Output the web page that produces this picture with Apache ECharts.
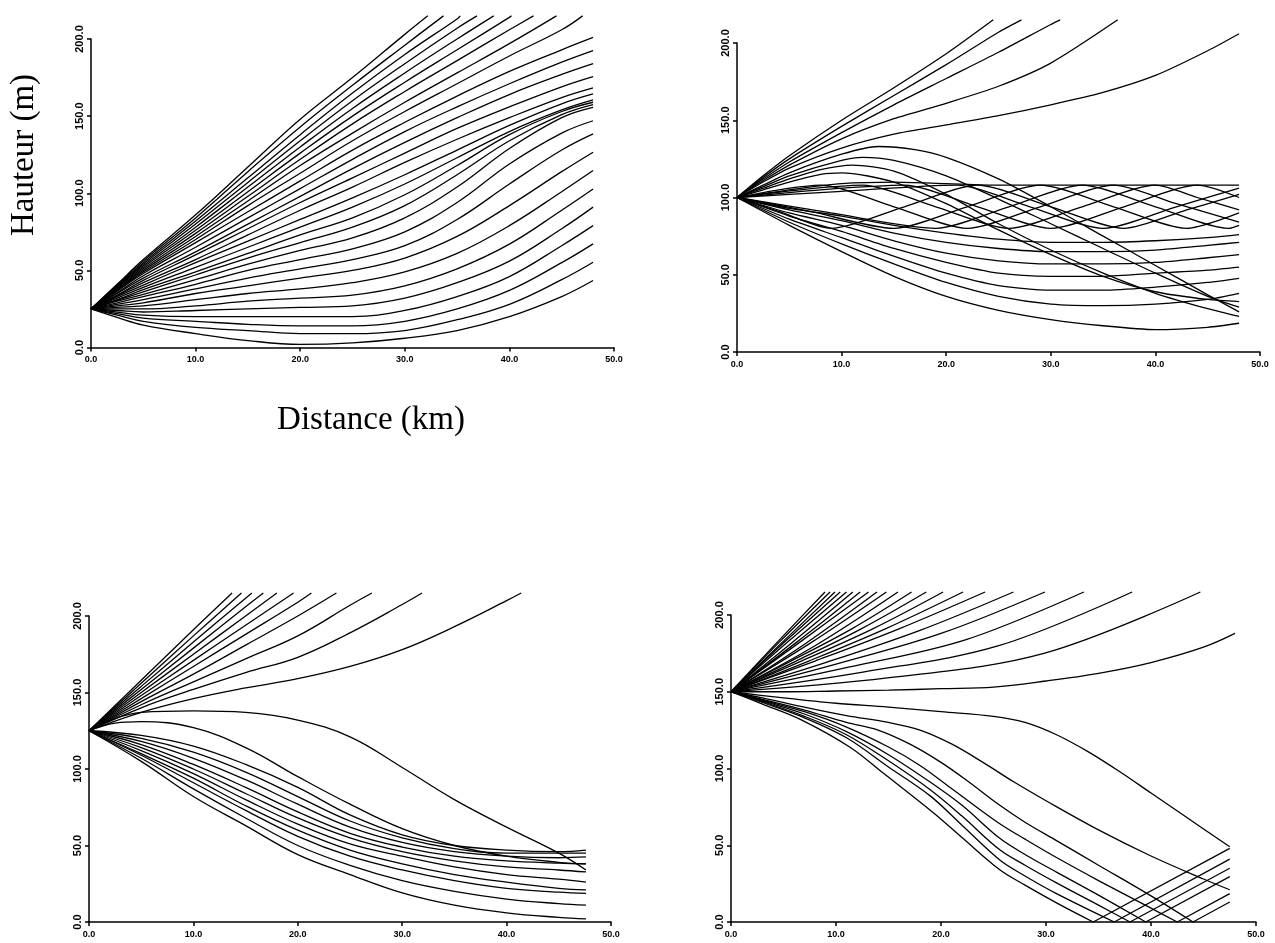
<!DOCTYPE html>
<html>
<head>
<meta charset="utf-8">
<script src="https://cdn.jsdelivr.net/npm/echarts@6/dist/echarts.min.js"></script>
<style>
  html, body { margin: 0; background: #fff; }
  #chart { width: 1275px; height: 943px; }
</style>
</head>
<body>
<div id="chart"></div>
<script>
// panel 1 : source at 25 m, rays on a shared distance grid (km)
const panel1X = [0, 2.5, 5, 10, 15, 20, 25, 30, 35, 40, 45, 48]
const panel1Rays = [
    [25, 41, 57, 86, 117, 148, 175, 203],
    [25, 40.5, 56, 84, 114, 143, 170, 196],
    [25, 40, 55, 82, 110, 138, 165, 190, 213],
    [25, 39.5, 54, 80, 107, 134, 160, 184, 207],
    [25, 39, 53, 78, 104, 130, 155, 178, 200],
    [25, 38.5, 52, 76, 101, 126, 150, 172, 193, 214],
    [25, 38, 51, 74, 98, 122, 145, 166, 186, 206],
    [25, 37.5, 50, 72, 95, 118, 139, 159, 178, 197],
    [25, 37, 49, 70, 92, 113, 134, 153, 171, 189, 206],
    [25, 36.5, 48, 68, 88, 108, 128, 146, 163, 179, 193, 201],
    [25, 35.5, 46.5, 65, 84, 103, 122, 140, 156, 171, 185, 192.5],
    [25, 35, 45, 62, 80, 98, 116, 133, 149, 164, 177, 184],
    [25, 34, 43.5, 60, 77, 94, 110, 126, 142, 156, 169, 175.6],
    [25, 33.5, 42, 57, 73, 89, 104, 120, 135, 149, 162, 168.3],
    [25, 33, 40.5, 55, 69, 83, 97, 112, 128, 144, 158, 164.4],
    [25, 32, 39, 52, 65, 78, 91, 106, 123, 140, 154, 160.5],
    [25, 31, 37.5, 49, 61, 73, 84, 99, 118, 138, 153, 159],
    [25, 30.5, 36, 47, 58, 68, 78, 92, 112, 134, 151, 157.5],
    [25, 30, 34.5, 44, 54, 63, 71, 84, 104, 129, 149, 155.7],
    [25, 29, 33, 41, 50, 57, 64, 75, 94, 119, 139, 147],
    [25, 28, 31, 38, 45, 51, 57, 66, 83, 106, 128, 138.5],
    [25, 27, 29, 35, 40, 45, 50, 58, 72, 92, 114, 126.6],
    [25, 26, 27, 31, 35, 38, 42, 49, 61, 79, 101, 114.7],
    [25, 25, 25, 27, 30, 32, 34, 40, 51, 67, 89, 102.8],
    [25, 24, 23, 24, 25, 26, 27, 32, 42, 56, 77, 91],
    [25, 23, 21, 20, 20, 20, 20, 24, 33, 46, 66, 79],
    [25, 22, 19, 17, 15, 14, 14, 17, 25, 37, 55, 67.2],
    [25, 21, 17, 13, 11, 9, 9, 11, 18, 28, 44, 55.3],
    [25, 19.5, 14.5, 9, 4.5, 2, 3, 6, 11, 20, 33, 43.4]
]
// distance where the first rays leave the top of the frame (215 m)
const panel1Exit = [32.2, 33.7, 35.3, 36.9, 38.5, 40.2, 42.3, 44.5, 47.0]

// panel 2 : source at 100 m, [km, m]
const panel2Rays = [
    [[0,100],[2.5,114],[5,127],[10,150],[15,171],[20,193],[24.5,215]],
    [[0,100],[2.5,113],[5,125],[10,146],[15,166],[20,186],[25,207],[27.2,215]],
    [[0,100],[2.5,112],[5,123],[10,142],[15,160],[20,177],[25,194],[30,212],[30.9,215]],
    [[0,100],[2.5,111],[5,121],[10,138],[15,151],[20,161],[25,172],[30,187],[36.4,215]],
    [[0,100],[2.5,110],[5,119],[10,132],[15,141],[20,147],[25,153],[30,160],[35,168],[40,179],[45,195],[48,206]],
    [[0,100],[5,105],[10,109],[15,110],[20,109],[25,108],[30,108],[35,108],[40,108],[45,108],[48,108]],
    [[0,100],[2.5,108],[5,116],[10,128],[13.5,133],[17,131],[20,126],[25,112],[30,94],[35,75],[40,56],[45,37],[48,26]],
    [[0,100],[2.5,107],[5,114],[10,124],[12,126],[15,124],[20,114],[25,99],[30,83],[35,67],[40,51],[45,36],[48,29]],
    [[0,100],[2.5,106],[5,112],[8,118],[11,121],[15,117],[20,102],[25,83],[30,66],[35,51],[40,38],[45,28],[48,23]],
    [[0,100],[2.5,105],[5,110],[8,115],[10,116],[15,110],[20,96],[25,79],[30,63],[35,49],[40,39],[45,34],[48,32.6]],
    [[0,100],[4,105],[8,108],[15,94],[22,80],[29,94],[36,108],[42,96],[48,84]],
    [[0,100],[6,105],[12,108],[19,94],[26,80],[33,94],[40,108],[44,100],[48,92]],
    [[0,100],[8,105],[16,108],[23,94],[30,80],[37,94],[44,108],[48,100]],
    [[0,100],[10,104],[21,108],[28,94],[35,80],[42,94],[48,106]],
    [[0,100],[4,91],[9,80],[16,94],[23,108],[30,94],[37,80],[43,92],[48,102]],
    [[0,100],[7,91],[15,80],[22,94],[29,108],[36,94],[43,80],[48,90]],
    [[0,100],[9,90],[19,80],[26,94],[33,108],[40,94],[47,80],[48,82]],
    [[0,100],[5,82],[10,65],[15,49],[20,36],[25,27],[30,21],[35,17],[40,14.5],[45,16],[48,18.6]],
    [[0,100],[5,84],[10,70],[15,57],[20,45],[25,36],[30,31],[35,30],[40,31],[45,34],[48,38]],
    [[0,100],[5,86],[10,74],[15,62],[20,51],[25,43],[30,40],[35,40],[40,42],[45,45],[48,47.7]],
    [[0,100],[5,88],[10,78],[15,67],[20,58],[25,51],[30,49],[35,49],[40,51],[45,53],[48,55]],
    [[0,100],[5,90],[10,82],[15,72],[20,64],[25,59],[30,57],[35,57],[40,58],[45,61],[48,63]],
    [[0,100],[5,92],[10,85],[15,77],[20,71],[25,67],[30,65],[35,65],[40,66],[45,69],[48,71]],
    [[0,100],[5,93],[10,88],[15,82],[20,77],[25,73],[30,71],[35,71],[40,72],[45,74],[48,76]]
]

// panel 3 : source at 125 m
const panel3Rays = [
    [[0,125],[5,158],[10,191],[13.7,215]],
    [[0,125],[5,156],[10,187],[14.6,215]],
    [[0,125],[5,154],[10,183],[15.6,215]],
    [[0,125],[5,152],[10,179],[15,206],[16.7,215]],
    [[0,125],[5,150],[10,175],[15,200],[18,215]],
    [[0,125],[5,148],[10,171],[15,194],[19.6,215]],
    [[0,125],[5,146],[10,167],[15,188],[20,209],[21.3,215]],
    [[0,125],[5,144],[10,162],[15,181],[20,200],[23.7,215]],
    [[0,125],[5,142],[10,157],[15,172],[20,187],[25,207],[27.1,215]],
    [[0,125],[5,140],[10,152],[15,163],[20,173],[25,189],[30,207.5],[31.9,215]],
    [[0,125],[5,137],[10,146],[15,153],[20,159],[25,167],[30,178],[35,193],[40,210],[41.4,215]],
    [[0,125],[2.5,133],[5,137],[10,138],[15,137],[20,132],[25,121],[30,101],[35,80],[40,62],[45,45],[47.6,34]],
    [[0,125],[2.5,130],[5,131],[10,127],[15,114],[20,95],[25,77],[30,61],[35,50],[40,43],[45,39],[47.6,38]],
    [[0,125],[5,122],[10,115],[15,103],[20,88],[25,70],[30,57],[35,50],[40,47],[45,46],[47.6,47]],
    [[0,125],[5,120],[10,111],[15,98],[20,82],[25,66],[30,55],[35,48],[40,45],[45,45],[47.6,45]],
    [[0,125],[5,118],[10,107],[15,93],[20,77],[25,62],[30,52],[35,46],[40,43],[45,42],[47.6,42.5]],
    [[0,125],[5,116],[10,103],[15,88],[20,72],[25,58],[30,49],[35,43],[40,40],[45,38.5],[47.6,38]],
    [[0,125],[5,114],[10,100],[15,84],[20,68],[25,55],[30,46],[35,40],[40,36],[45,34],[47.6,32.7]],
    [[0,125],[5,112],[10,97],[15,80],[20,64],[25,51],[30,43],[35,36],[40,31],[45,28],[47.6,26]],
    [[0,125],[5,110],[10,94],[15,76],[20,60],[25,47],[30,38],[35,31],[40,26],[45,22],[47.6,21]],
    [[0,125],[5,109],[10,91],[15,73],[20,56],[25,43],[30,34],[35,27],[40,22],[45,19.5],[47.6,18.7]],
    [[0,125],[5,107],[10,87],[15,68],[20,50],[25,37],[30,27],[35,20],[40,15],[45,12],[47.6,11]],
    [[0,125],[5,105],[10,82],[15,63],[20,44],[25,31],[30,19],[35,11],[40,6],[45,3],[47.6,2]]
]

// panel 4 : source at 150 m, lower rays bounce on the ground (0 m)
const panel4Rays = [
    [[0,150],[4.5,183],[8.95,215]],
    [[0,150],[4.7,183],[9.43,215]],
    [[0,150],[5,183],[9.9,215]],
    [[0,150],[5.2,183],[10.4,215]],
    [[0,150],[5.5,183],[11,215]],
    [[0,150],[5.8,182],[11.6,215]],
    [[0,150],[6.2,182],[12.3,215]],
    [[0,150],[6.5,182],[13.1,215]],
    [[0,150],[7,181],[13.9,215]],
    [[0,150],[7.4,181],[14.8,215]],
    [[0,150],[8,180],[15.9,215]],
    [[0,150],[5.7,170],[11.5,191],[17.2,215]],
    [[0,150],[6.2,170],[12.4,191],[18.6,215]],
    [[0,150],[6.7,170],[13.5,191],[20.2,215]],
    [[0,150],[7.4,170],[14.7,191],[22.1,215]],
    [[0,150],[8,170],[16,191],[24.2,215]],
    [[0,150],[9,169],[18,190],[26.9,215]],
    [[0,150],[10,168],[20,188],[29.9,215]],
    [[0,150],[11.2,166],[22.4,184],[33.6,215]],
    [[0,150],[12.7,163],[25.5,180],[38.2,215]],
    [[0,150],[14.9,159],[29.8,175],[44.7,215]],
    [[0,150],[5,150],[10,150.5],[15,151],[20,152],[25,153],[30,157],[35,162],[40,169],[45,179],[48,188]],
    [[0,150],[5,146],[10,142.5],[15,140],[20,137],[25,134],[28,130],[31,122],[34,111],[37,98],[40,84],[43,70],[47.5,49]],
    [[0,150],[3,146],[7,140],[11,134.5],[15,130],[18,125],[21,116],[24,104],[27,91],[30,79],[35,60],[40,43],[45,28],[47.5,21]],
    [[0,150],[3,145],[7,138],[11,130],[14,125],[17,116],[20,104],[22.5,92],[25.6,76],[28,65],[31,53],[35,37],[40,17],[44,0],[47.5,13]],
    [[0,150],[3,144.5],[7,137],[11,127],[15,114],[18,102],[21,87],[25.6,64],[28,54],[31,42],[35,27],[40,9],[42.5,0],[47.5,18.5]],
    [[0,150],[3,144],[7,135.5],[11,124],[15,109],[19,91],[22,76],[25.6,54.5],[28,44],[31,32.5],[35,17.5],[39.5,0],[47.5,29.6]],
    [[0,150],[3,143.5],[7,134],[11,122],[15,105],[19,86],[22,69],[25.6,47],[28,37],[31,25.5],[35,11],[38,0],[47.5,35]],
    [[0,150],[3,143],[7,133],[11,120],[15,101],[19,82],[22,63],[25.6,40.4],[28,30],[31,18.5],[36.5,0],[47.5,41]],
    [[0,150],[3,142],[6.6,132],[11.3,114],[14.5,97],[19.3,71],[22,55],[25.6,34],[28,24],[31,12.5],[34.5,0],[47.5,48]]
]

const topOfFrame = 215

// panel boxes in pixels (0..50 km, 0..200 m)
const grids = [
    { left: 91, top: 39, width: 523, height: 308.5 },
    { left: 737, top: 43, width: 523, height: 309 },
    { left: 89, top: 616, width: 522, height: 306 },
    { left: 731, top: 615, width: 525, height: 307 }
]
const panelSmooth = [0.4, 0.25, 0.4, 0.35]

const panel1Points = panel1Rays.map((ys, i) => {
    let pts = ys.map((v, j) => [panel1X[j], v])
    if (i < panel1Exit.length) {
        pts.push([panel1Exit[i], topOfFrame])
    }
    return pts
})

const allPanels = [panel1Points, panel2Rays, panel3Rays, panel4Rays]

// cut a ray where it touches the ground so the bounce stays sharp
const splitAtGround = (ray) => {
    let parts = []
    let cur = []
    ray.forEach((p, i) => {
        cur.push(p)
        if (p[1] === 0 && i > 0 && i < ray.length - 1) {
            parts.push(cur)
            cur = [p]
        }
    })
    parts.push(cur)
    return parts
}

const labelFmt = (v) => v.toFixed(1)

const axisStyle = {
    axisLine: { show: true, onZero: false, lineStyle: { color: '#000', width: 1.5 } },
    axisTick: { show: true, length: 4, lineStyle: { color: '#000', width: 1.5 } },
    splitLine: { show: false }
}

let xAxes = []
let yAxes = []
let series = []

grids.forEach((g, k) => {
    xAxes.push({
        type: 'value', gridIndex: k, min: 0, max: 50, interval: 10,
        ...axisStyle,
        axisLabel: {
            color: '#000', fontSize: 9, fontWeight: 'bold',
            fontFamily: 'Liberation Sans', margin: 8, formatter: labelFmt
        }
    })
    yAxes.push({
        type: 'value', gridIndex: k, min: 0, max: 200, interval: 50,
        ...axisStyle,
        axisLabel: {
            color: '#000', fontSize: 11, fontWeight: 'bold', rotate: 90,
            fontFamily: 'Liberation Sans', margin: 6, formatter: labelFmt
        }
    })
    allPanels[k].forEach((ray) => {
        splitAtGround(ray).forEach((part) => {
            series.push({
                type: 'line',
                xAxisIndex: k,
                yAxisIndex: k,
                data: part,
                smooth: panelSmooth[k],
                symbol: 'none',
                clip: false,
                silent: true,
                lineStyle: { color: '#000', width: 1.3 }
            })
        })
    })
})

let chart = echarts.init(document.getElementById('chart'))
chart.setOption({
    backgroundColor: '#fff',
    animation: false,
    grid: grids,
    xAxis: xAxes,
    yAxis: yAxes,
    series: series,
    graphic: [
        {
            type: 'text', x: 24, y: 155, rotation: Math.PI / 2,
            style: {
                text: 'Hauteur (m)', font: '33px "Liberation Serif"', fill: '#000',
                align: 'center', verticalAlign: 'middle',
                textAlign: 'center', textVerticalAlign: 'middle'
            }
        },
        {
            type: 'text', x: 371, y: 420,
            style: {
                text: 'Distance (km)', font: '33px "Liberation Serif"', fill: '#000',
                align: 'center', verticalAlign: 'middle',
                textAlign: 'center', textVerticalAlign: 'middle'
            }
        }
    ]
})
</script>
</body>
</html>
